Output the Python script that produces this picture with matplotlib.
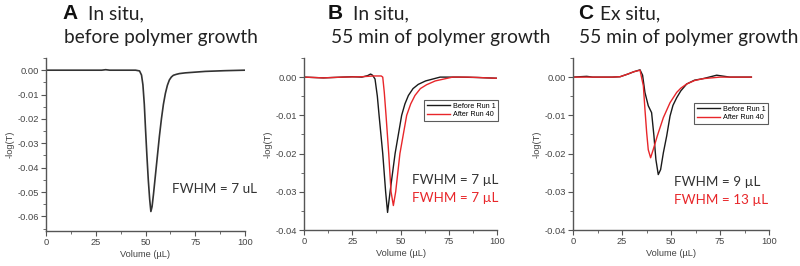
import matplotlib
matplotlib.use("Agg")
import matplotlib.pyplot as plt
from matplotlib.ticker import MultipleLocator

# panel A: in situ, before polymer growth
a_x = [0, 10, 20, 28, 30, 32, 40, 45, 47, 48, 48.7, 49.4, 50, 50.7, 51.4, 52.1, 52.7, 53.3, 54, 55, 56, 57, 58, 59, 60, 61, 62, 63, 64, 65.5, 67, 70, 75, 80, 90, 100]
a_y = [0, 0, 0, 0, 0.0002, 0, 0, 0, -0.0003, -0.002, -0.006, -0.014, -0.024, -0.035, -0.045, -0.053, -0.058, -0.056, -0.051, -0.043, -0.035, -0.027, -0.020, -0.014, -0.0095, -0.0062, -0.0040, -0.0028, -0.0021, -0.0017, -0.0014, -0.0011, -0.0008, -0.0005, -0.0002, 0]

# panel B: in situ, 55 min of polymer growth
b1_x = [0, 10, 20, 25, 30, 33, 34.5, 35.5, 36.8, 38, 38.9, 40.8, 42.3, 43.3, 44.6, 47.2, 50.6, 52.3, 54.1, 56.5, 59.2, 63, 70.5, 80, 90, 100]
b1_y = [0, -0.0002, 0, 0.0001, 0, 0.0004, 0.0008, 0.0005, -0.0005, -0.005, -0.010, -0.020, -0.030, -0.0354, -0.030, -0.020, -0.010, -0.007, -0.0048, -0.003, -0.0019, -0.001, 0, 0, -0.0001, -0.0003]
b2_x = [0, 10, 20, 30, 36, 40, 40.8, 41.6, 42.5, 43.9, 45.1, 46.3, 47.5, 49.7, 53.2, 55.3, 57.5, 60.3, 63.5, 68, 77, 85, 95, 100]
b2_y = [0, -0.0002, 0, 0.0001, 0.0003, 0.0003, 0, -0.004, -0.010, -0.020, -0.030, -0.0336, -0.030, -0.020, -0.010, -0.007, -0.0048, -0.003, -0.002, -0.001, 0, 0, -0.0002, -0.0003]

# panel C: ex situ, 55 min of polymer growth
c1_x = [0, 7, 10, 20, 24, 28, 31, 34.2, 35.5, 36.7, 38.4, 40.1, 41.3, 42.3, 43.5, 44.7, 46.1, 47.8, 49.5, 51, 52.9, 55, 58, 62, 66.4, 73.3, 80, 91]
c1_y = [0, 0.0002, 0, 0, 0.0001, 0.0008, 0.0014, 0.0019, 0.0005, -0.004, -0.0075, -0.0093, -0.0154, -0.0216, -0.0255, -0.0242, -0.0198, -0.0154, -0.0102, -0.0074, -0.0054, -0.0036, -0.0018, -0.0008, -0.0004, 0.0005, 0, 0]
c2_x = [0, 10, 20, 24, 28, 31, 34.2, 35.9, 36.7, 37.6, 38.4, 39.6, 40.9, 43, 46.1, 49.5, 52.9, 55, 58, 62, 66.4, 75, 91]
c2_y = [0, 0, 0, 0.0001, 0.0008, 0.0014, 0.0018, -0.0023, -0.0084, -0.0146, -0.019, -0.0211, -0.019, -0.0154, -0.0106, -0.0067, -0.004, -0.0029, -0.0018, -0.0009, -0.0004, 0, 0]

letters = ["A", "B", "C"]
line1 = ["In situ,", "In situ,", "Ex situ,"]
line2 = ["before polymer growth", "55 min of polymer growth", "55 min of polymer growth"]
fwhm_before = ["FWHM = 7 uL", "FWHM = 7 µL", "FWHM = 9 µL"]
fwhm_after = [None, "FWHM = 7 µL", "FWHM = 13 µL"]
series_labels = ["Before Run 1", "After Run 40"]

W, H = 800, 266
fig = plt.figure(figsize=(8, 2.66), dpi=100)

def px(x0, y0, x1, y1):
    # pixel box -> figure fraction
    return [x0 / W, 1 - y1 / H, (x1 - x0) / W, (y1 - y0) / H]

boxes = [px(46, 58, 245, 231), px(304, 58, 497, 230), px(573, 58, 769, 230)]
ylims = [(-0.066, 0.005), (-0.04, 0.005), (-0.04, 0.005)]
black = "#1a1a1a"
red = "#e8262a"
grey = "#444444"

axes = []
for i, box in enumerate(boxes):
    ax = fig.add_axes(box)
    axes.append(ax)
    ax.set_xlim(0, 100)
    ax.set_ylim(*ylims[i])
    for s in ["top", "right"]:
        ax.spines[s].set_visible(False)
    for s in ["left", "bottom"]:
        ax.spines[s].set_color("#555555")
        ax.spines[s].set_linewidth(1.0)
    ax.xaxis.set_major_locator(MultipleLocator(25))
    ax.xaxis.set_minor_locator(MultipleLocator(12.5))
    ax.yaxis.set_major_locator(MultipleLocator(0.01))
    ax.yaxis.set_minor_locator(MultipleLocator(0.005))
    ax.yaxis.set_major_formatter(plt.FuncFormatter(lambda v, p: "%.2f" % v if abs(v) > 1e-9 else "0.00"))
    ax.tick_params(which="major", direction="out", length=3.5, width=0.8, color="#555555",
                   labelsize=6.7, labelcolor=grey, pad=1.5)
    ax.tick_params(which="minor", direction="out", length=2, width=0.6, color="#555555")
    for lab in ax.get_xticklabels() + ax.get_yticklabels():
        lab.set_family("Liberation Sans")
    ax.set_xlabel("Volume (µL)", fontsize=6.7, color=grey, family="Liberation Sans", labelpad=2)
    ax.set_ylabel("-log(T)", fontsize=6.7, color=grey, family="Liberation Sans", labelpad=2)

axes[0].plot(a_x, a_y, color="#333333", lw=1.2)
axes[1].plot(b1_x, b1_y, color=black, lw=1.0, label=series_labels[0])
axes[1].plot(b2_x, b2_y, color=red, lw=1.0, label=series_labels[1])
axes[2].plot(c1_x, c1_y, color=black, lw=1.0, label=series_labels[0])
axes[2].plot(c2_x, c2_y, color=red, lw=1.0, label=series_labels[1])

# legends, upper-left corner placed in pixels
leg_pos = [(424, 100), (694, 103)]
for ax, (x, y) in zip(axes[1:], leg_pos):
    leg = ax.legend(loc="upper left", bbox_to_anchor=(x / W, 1 - y / H), bbox_transform=fig.transFigure,
                    frameon=True, fancybox=False, handlelength=3.2, handletextpad=0.4, borderpad=0.35,
                    labelspacing=0.25, borderaxespad=0, prop={"family": "Liberation Sans", "size": 5.2})
    leg.get_frame().set_edgecolor("#333333")
    leg.get_frame().set_linewidth(0.8)

# FWHM annotations
fw_pos = [(172, 189), (412, 180), (674, 182)]
for i, (x, y) in enumerate(fw_pos):
    fig.text(x / W, 1 - y / H, fwhm_before[i], fontsize=9.7, color="#333333", family="Lato",
             va="center", ha="left")
    if fwhm_after[i]:
        fig.text(x / W, 1 - (y + 18) / H, fwhm_after[i], fontsize=9.7, color=red, family="Lato",
                 va="center", ha="left")

# panel titles
letter_x = [62, 328, 578]
l1_x = [88, 353, 600]
l2_x = [64, 331, 579]
for i in range(3):
    fig.text(letter_x[i] / W, 1 - 14 / H, letters[i], fontsize=15, fontweight="bold",
             family="Liberation Sans", color="#111111", va="center", ha="left")
    fig.text(l1_x[i] / W, 1 - 14 / H, line1[i], fontsize=13.8, family="Lato",
             color="#222222", va="center", ha="left")
    fig.text(l2_x[i] / W, 1 - 37 / H, line2[i], fontsize=13.8, family="Lato",
             color="#222222", va="center", ha="left")

fig.savefig("out.png", dpi=100)
